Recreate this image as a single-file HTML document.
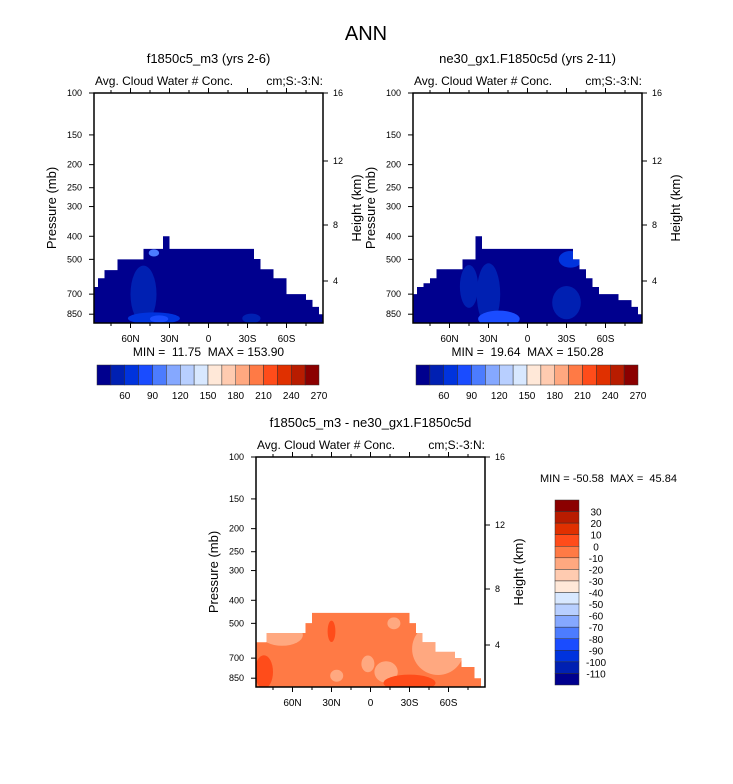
<!DOCTYPE html>
<html><head><meta charset="utf-8">
<style>
html,body{margin:0;padding:0;background:#fff;}
svg{display:block;font-family:"Liberation Sans",Arial,sans-serif;}
text{white-space:pre;}
</style></head>
<body>
<svg id="chart" width="733" height="784" viewBox="0 0 733 784" xmlns="http://www.w3.org/2000/svg">
<text x="366" y="40" font-size="20" text-anchor="middle">ANN</text>
</svg>
<script>
// ---- data ----
var colors = ["#00008e","#0020b2","#0033dd","#1a4cff","#4c7cff","#85a8ff","#b8cfff","#d8e8ff","#ffe8d8","#ffcbb0","#ffa880","#ff7a45","#ff4c1a","#e03000","#b81c00","#8b0000"];
var pLevels = [100,150,200,250,300,400,500,700,850];
var hLevels = [16,12,8,4];
var hLevelY = [0,68,132,188];
var latTicks = [60,30,0,-30,-60];
var latLabels = ["60N","30N","0","30S","60S"];
var binLats = [];
for (var i=0;i<36;i++) binLats.push(87.5 - 5*i);
// top pressure (hPa) of data per 5-degree latitude bin, 90N -> 90S
var topLeft  = [653,600,555,555,500,500,500,500,452,452,452,400,452,452,452,452,452,452,452,452,452,452,452,452,452,498,550,550,600,600,700,700,700,740,792,850];
var topRight = [700,653,630,600,550,550,550,550,500,500,400,452,452,452,452,452,452,452,452,452,452,452,452,452,452,500,550,600,653,700,700,700,742,742,792,850];
var topDiff  = [600,600,549,549,549,549,549,549,499,452,452,452,452,452,452,452,452,452,452,452,452,452,452,452,499,549,600,600,659,659,659,700,763,763,850,0];
// patches: [lat, pressure, lat half-width, log-pressure half-height, color index]
var patchLeft  = [[50,700,10,0.12,1],[42,885,20,0.025,2],[-33,885,7,0.02,1],[42,470,4,0.015,4],[38,890,7,0.015,3]];
var patchRight = [[30,700,9,0.13,1],[22,890,16,0.035,3],[-30,760,11,0.07,1],[-33,500,9,0.035,2],[45,650,7,0.09,1]];
var patchDiff  = [[68,560,16,0.045,10],[-52,640,20,0.11,10],[2,740,5,0.035,10],[-12,800,9,0.045,10],[26,830,5,0.025,10],[82,800,7,0.07,12],[-30,890,20,0.035,12],[30,540,3,0.045,12],[-18,500,5,0.025,10]];
var cbTopLabels = [60,90,120,150,180,210,240,270];
var cbDiffLabels = [30,20,10,0,-10,-20,-30,-40,-50,-60,-70,-80,-90,-100,-110];

var NS="http://www.w3.org/2000/svg";
var svg=document.getElementById('chart');
function el(tag,attrs,parent){var e=document.createElementNS(NS,tag);for(var k in attrs)e.setAttribute(k,attrs[k]);(parent||svg).appendChild(e);return e;}
function txt(x,y,s,size,anchor,parent){var t=el('text',{x:x,y:y,'font-size':size,'text-anchor':anchor||'middle'},parent);t.textContent=s;return t;}

function panel(x0,y0,tops,patches,baseColor,title,minmax,name){
  var W=229,H=230;
  var g=el('g',{});
  
  
  function X(lat){return x0+114.5-lat*1.3;}
  function Y(p){return y0+Math.log10(p/100)*238;}
  var pts=[];
  for(var i=0;i<tops.length;i++){
    var xa=X(binLats[i]+2.5),xb=X(binLats[i]-2.5);
    var yy=tops[i]>0?Y(tops[i]):y0+H;
    pts.push(xa+','+yy,xb+','+yy);
  }
  var x1=X(90),x2=X(-90);
  var poly='M'+x1+','+(y0+H)+' L'+pts.join(' L')+' L'+x2+','+(y0+H)+' Z';
  var cid='clip-'+name, fid='frame-'+name;
  var fc=el('clipPath',{id:fid},g);el('rect',{x:x0,y:y0,width:W,height:H},fc);
  var cp=el('clipPath',{id:cid},g);el('path',{d:poly},cp);
  var fg=el('g',{'clip-path':'url(#'+fid+')'},g);
  var area=el('path',{d:poly,fill:colors[baseColor]},fg);
  
  
  var pg=el('g',{'clip-path':'url(#'+cid+')'},fg);
  for(var j=0;j<patches.length;j++){
    var pa=patches[j];
    var e=el('ellipse',{cx:X(pa[0]),cy:Y(pa[1]),rx:pa[2]*1.3,ry:pa[3]*238,fill:colors[pa[4]]},pg);
    
    
  }
  el('rect',{x:x0,y:y0,width:W,height:H,fill:'none',stroke:'#000','stroke-width':1.5},g);
  for(var l=-90;l<=90;l+=15){
    var xx=X(l); if(xx<x0||xx>x0+W) continue;
    var len=(l%30===0)?5:3;
    el('line',{x1:xx,x2:xx,y1:y0,y2:y0-len,stroke:'#000'},g);
    el('line',{x1:xx,x2:xx,y1:y0+H,y2:y0+H+len,stroke:'#000'},g);
  }
  for(var k=0;k<latTicks.length;k++){
    var t=txt(X(latTicks[k]),y0+H+19,latLabels[k],10,'middle',g);
    
    
  }
  for(var k=0;k<pLevels.length;k++){
    var yy=Y(pLevels[k]);
    el('line',{x1:x0,x2:x0-5,y1:yy,y2:yy,stroke:'#000'},g);
    var t=txt(x0-12,yy+3,String(pLevels[k]),9,'end',g);
    
    
  }
  for(var k=0;k<hLevels.length;k++){
    var yy=y0+hLevelY[k];
    el('line',{x1:x0+W,x2:x0+W+5,y1:yy,y2:yy,stroke:'#000'},g);
    var t=txt(x0+W+10,yy+3,String(hLevels[k]),9,'start',g);
    
    
  }
  var yt=txt(0,0,'Pressure (mb)',13,'middle',g);yt.setAttribute('transform','translate('+(x0-38)+','+(y0+H/2)+') rotate(-90)');
  
  
  var ht=txt(0,0,'Height (km)',13,'middle',g);ht.setAttribute('transform','translate('+(x0+W+38)+','+(y0+H/2)+') rotate(-90)');
  
  
  var st=txt(x0+W/2,y0-30,title,13,'middle',g);
  
  
  var lt=txt(x0+1,y0-8,'Avg. Cloud Water # Conc.',12,'start',g);
  
  
  var rt=txt(x0+W,y0-8,'cm;S:-3:N:',12,'end',g);
  
  
  if(minmax){
    var mm=txt(x0+W/2,y0+H+33,minmax,12,'middle',g);
    
    
  }
}
panel(94,93,topLeft,patchLeft,0,'f1850c5_m3 (yrs 2-6)','MIN =  11.75  MAX = 153.90','panel-f1850c5-m3');
panel(413,93,topRight,patchRight,0,'ne30_gx1.F1850c5d (yrs 2-11)','MIN =  19.64  MAX = 150.28','panel-ne30');
panel(256,457,topDiff,patchDiff,11,'f1850c5_m3 - ne30_gx1.F1850c5d',null,'panel-difference');
var dm=txt(540,482,'MIN = -50.58  MAX =  45.84',11,'start');



function hbar(x0,name){
  var w=222/16;
  for(var i=0;i<16;i++){
    var r=el('rect',{x:x0+i*w,y:365,width:w,height:20,fill:colors[i],stroke:'#333','stroke-width':0.5});
    
    
  }
  for(var k=0;k<cbTopLabels.length;k++){
    var t=txt(x0+(2+2*k)*w,399,String(cbTopLabels[k]),10,'middle');
    
    
  }
}
hbar(97,'colorbar-left');
hbar(416,'colorbar-right');
var bh=185/16;
for(var i=0;i<16;i++){
  var r=el('rect',{x:555,y:500+i*bh,width:24,height:bh,fill:colors[15-i],stroke:'#333','stroke-width':0.5});
  
  
}
for(var k=0;k<cbDiffLabels.length;k++){
  var t=txt(596,500+(k+1)*bh+4,String(cbDiffLabels[k]),10,'middle');
  
  
}
</script>
</body></html>
